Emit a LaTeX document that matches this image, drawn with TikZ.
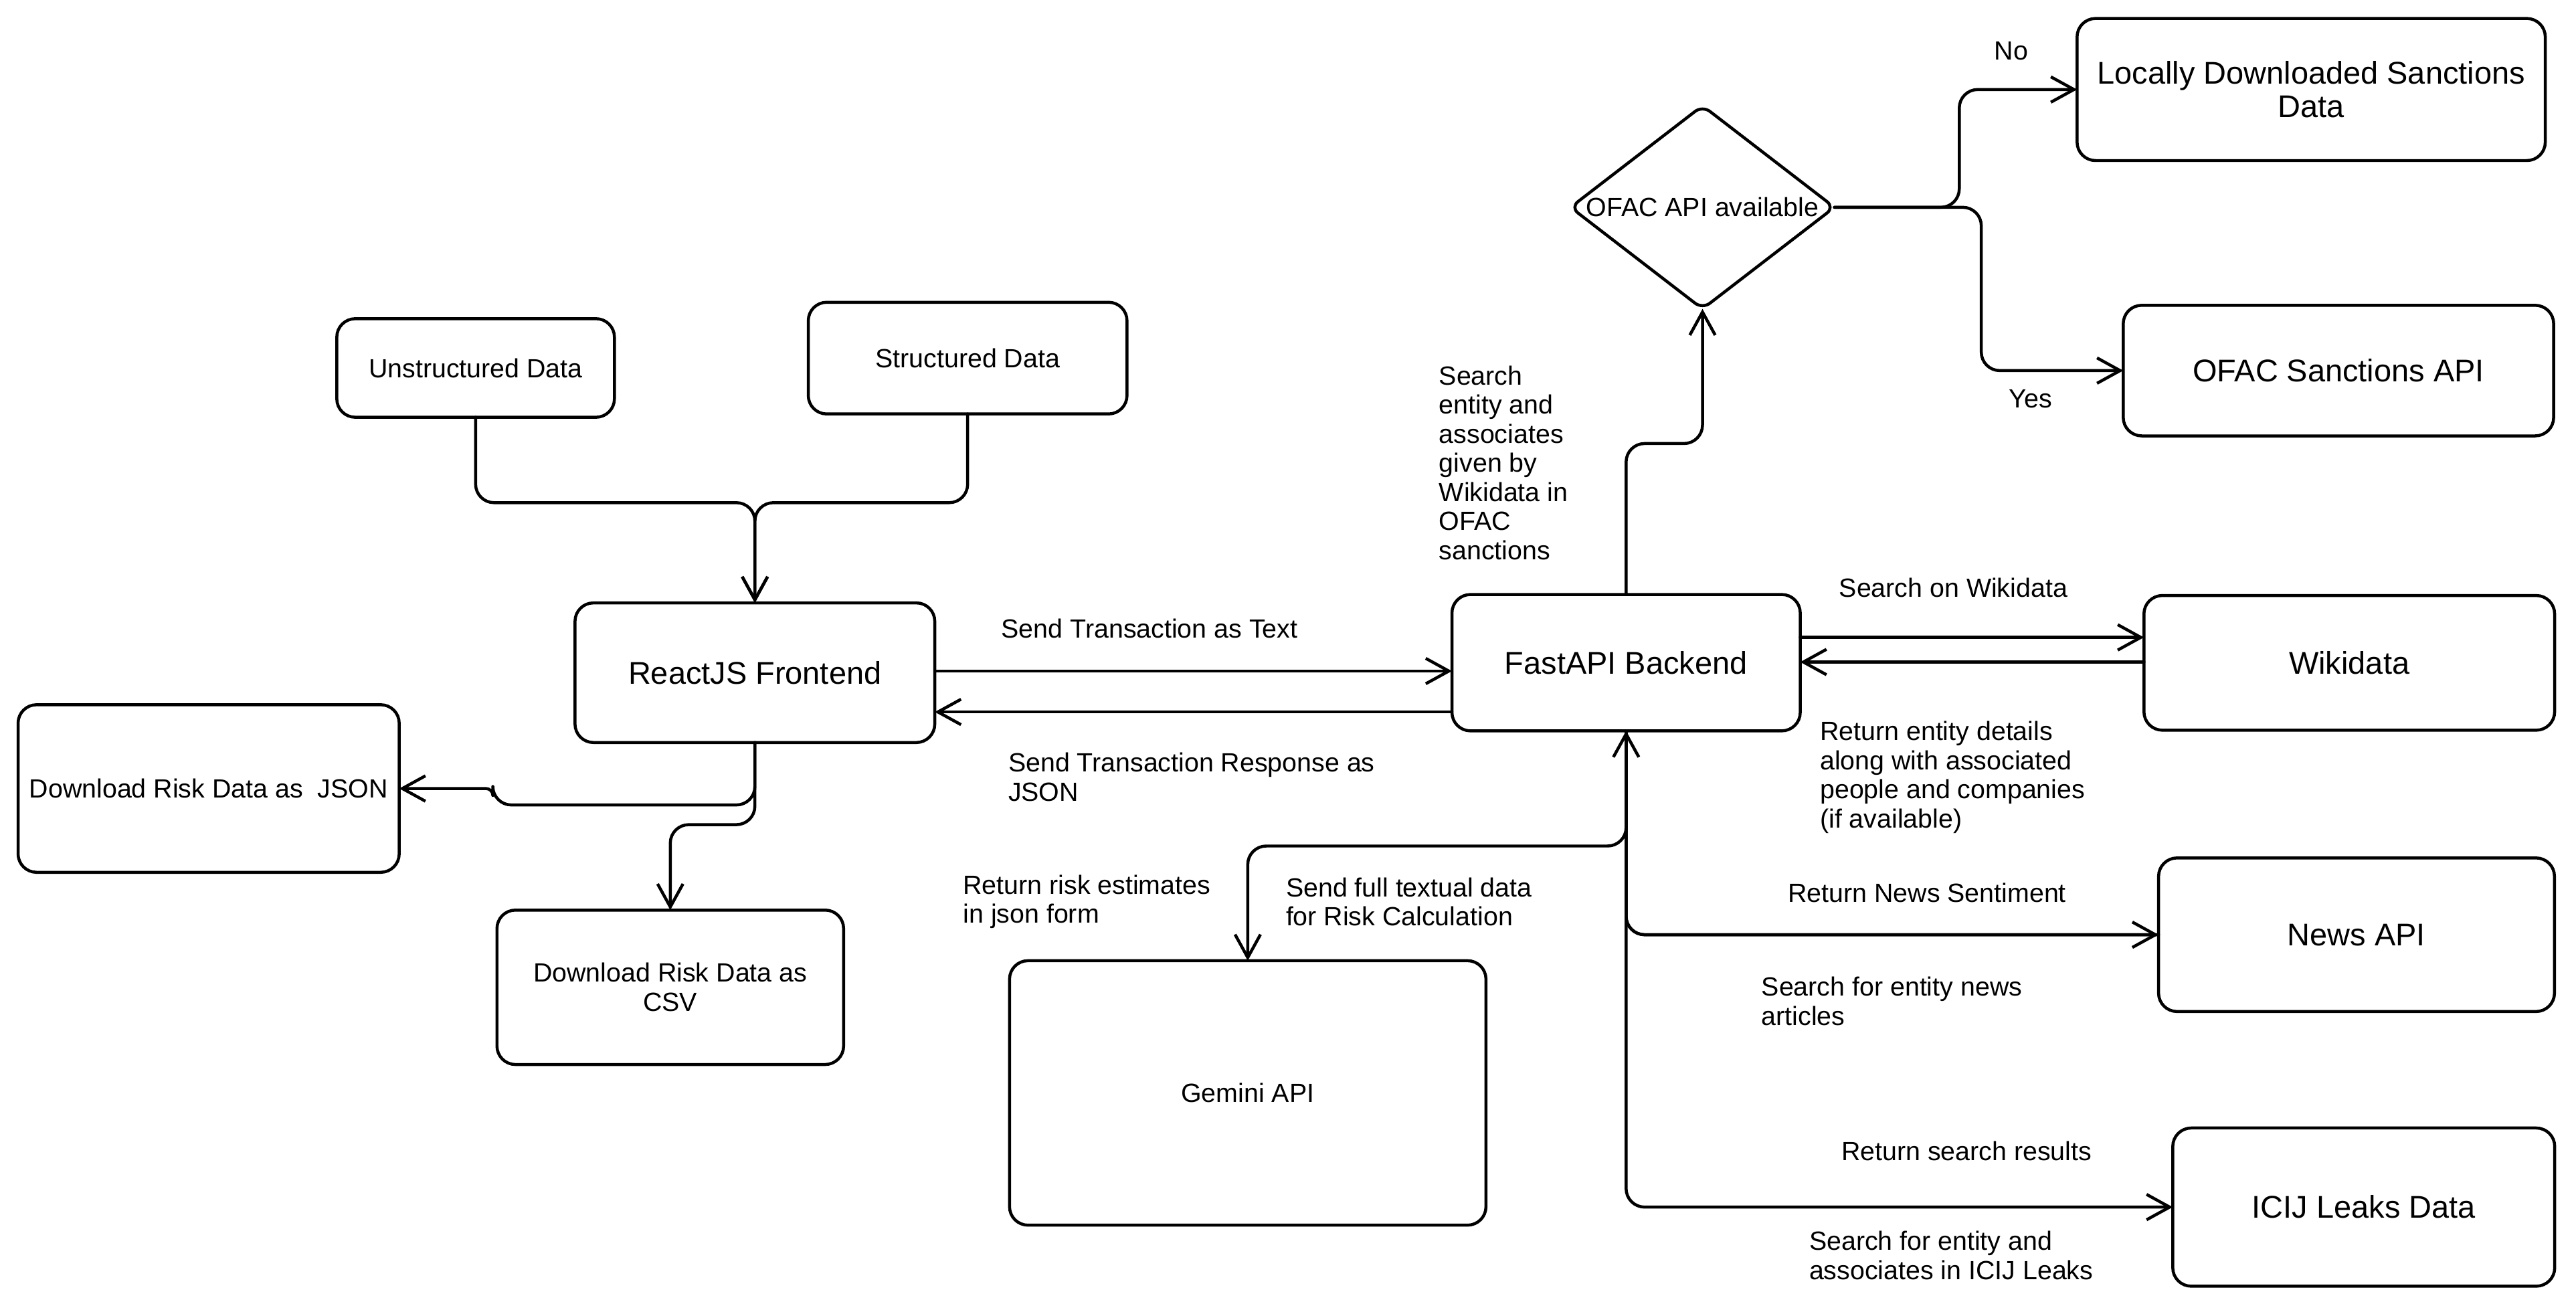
\documentclass[tikz,border=0pt]{standalone}
\usepackage{fontspec}
\setmainfont{Liberation Sans}
\usetikzlibrary{arrows.meta,shapes.geometric}

\newcommand{\bigfont}{\fontsize{13.6}{14.6}\selectfont}
\newcommand{\smallfont}{\fontsize{11.4}{12.6}\selectfont}

\tikzset{
  box/.style 2 args={draw, rounded corners=8pt, line width=1.3pt, align=center,
    minimum width=#1*0.25mm, minimum height=#2*0.25mm, inner sep=0pt, outer sep=0pt},
  bigbox/.style 2 args={box={#1}{#2}, font=\bigfont},
  smallbox/.style 2 args={box={#1}{#2}, font=\smallfont},
  decision/.style={draw, diamond, rounded corners=4pt, line width=1.3pt,
    minimum width=160.6*0.25mm, minimum height=123.7*0.25mm, inner sep=0pt, outer sep=0pt},
  lbl/.style={font=\smallfont, inner sep=0pt, align=left},
  conn/.style={line width=1.3pt, rounded corners=8pt, line cap=round, line join=round,
    -{Straight Barb[length=10pt,width=11pt]}}
}

\begin{document}
\begin{tikzpicture}[x=0.25mm,y=-0.25mm]
\useasboundingbox (0,0) rectangle (1568,797.4);
%sources
\node[smallbox={169}{60}] (unstr) at (289.5,224) {Unstructured Data};
\node[smallbox={194}{68}] (str) at (589,218) {Structured Data};
%frontend
\node[bigbox={219}{85}] (react) at (459.5,409.5) {ReactJS Frontend};
\node[smallbox={232}{102}] (json) at (127,480) {Download Risk Data as\ \ JSON};
\node[smallbox={211}{94}] (csv) at (408,601) {Download Risk Data as\\CSV};
%backend
\node[bigbox={212}{83}] (fastapi) at (989.8,403.4) {FastAPI Backend};
\node[smallbox={290}{161}] (gemini) at (759.5,665.3) {Gemini API};
\node[bigbox={250}{82}] (wiki) at (1430,403.5) {Wikidata};
\node[bigbox={241}{93.5}] (news) at (1434.4,569) {News API};
\node[bigbox={232.5}{96.3}] (icij) at (1438.8,734.8) {ICIJ Leaks Data};
%sanctions
\node[decision, label={[font=\smallfont]center:OFAC API available}] (ofacq) at (1036.3,126.2) {};
\node[bigbox={285}{86.5}] (local) at (1406.8,54.5) {Locally Downloaded Sanctions\\Data};
\node[bigbox={262}{79.5}] (ofac) at (1423.4,225.6) {OFAC Sanctions API};

%data in
\coordinate (merge) at (459.5,306);
\draw[conn] (unstr.south) |- (merge) -- (react.north);
\draw[conn] (str.south) |- (merge) -- (react.north);
%frontend <-> backend
\draw[conn] (react.east |- 0,408.5) -- (fastapi.west |- 0,408.5);
\draw[conn] (fastapi.west |- 0,433.4) -- (react.east |- 0,433.4);
%downloads
\draw[conn] (react.south) |- (300,490) [rounded corners=3pt] |- (json.east);
\draw[conn] (react.south) |- (408,502) -- (csv.north);
%sanctions check
\draw[conn] (fastapi.north) |- (ofacq.south |- 0,270) -- (ofacq.south);
\draw[conn] (ofacq.east) -| (1192.6,54.5) -- (local.west);
\draw[conn] (ofacq.east) -| (1206,225.6) -- (ofac.west);
%wikidata
\draw[conn] (fastapi.east |- 0,388) -- (wiki.west |- 0,388);
\draw[conn] (wiki.west |- 0,403) -- (fastapi.east |- 0,403);
%services below the backend
\draw[conn] (fastapi.south) |- (gemini.north |- 0,515) -- (gemini.north);
\foreach \s in {news,icij}
\draw[conn] (fastapi.south) |- (\s.west);
\draw[conn] (news.west) -| (fastapi.south);

%labels
\node[lbl] (txsend) at (699.7,382.5) {Send Transaction as Text};
\node[lbl, anchor=west] (txresp) at (613.5,473) {Send Transaction Response as\\JSON};
\node[lbl, anchor=west] (riskret) at (586,549) {Return risk estimates\\in json form};
\node[lbl, anchor=west] (risksend) at (782.5,549) {Send full textual data\\for Risk Calculation};
\node[lbl, anchor=west] (ofacsearch) at (875.7,281.7) {Search\\entity and\\associates\\given by\\Wikidata in\\OFAC\\sanctions};
\node[lbl] (no) at (1224.3,30.9) {No};
\node[lbl] (yes) at (1236,243) {Yes};
\node[lbl] (wikisearch) at (1189,357.6) {Search on Wikidata};
\node[lbl, anchor=west] (wikiret) at (1107.6,473.2) {Return entity details\\along with associated\\people and companies\\(if available)};
\node[lbl] (newsret) at (1173,543.6) {Return News Sentiment};
\node[lbl, anchor=west] (newssearch) at (1072,609.4) {Search for entity news\\articles};
\node[lbl] (icijret) at (1197,700.8) {Return search results};
\node[lbl, anchor=west] (icijsearch) at (1101,764.3) {Search for entity and\\associates in ICIJ Leaks};
\end{tikzpicture}
\end{document}
